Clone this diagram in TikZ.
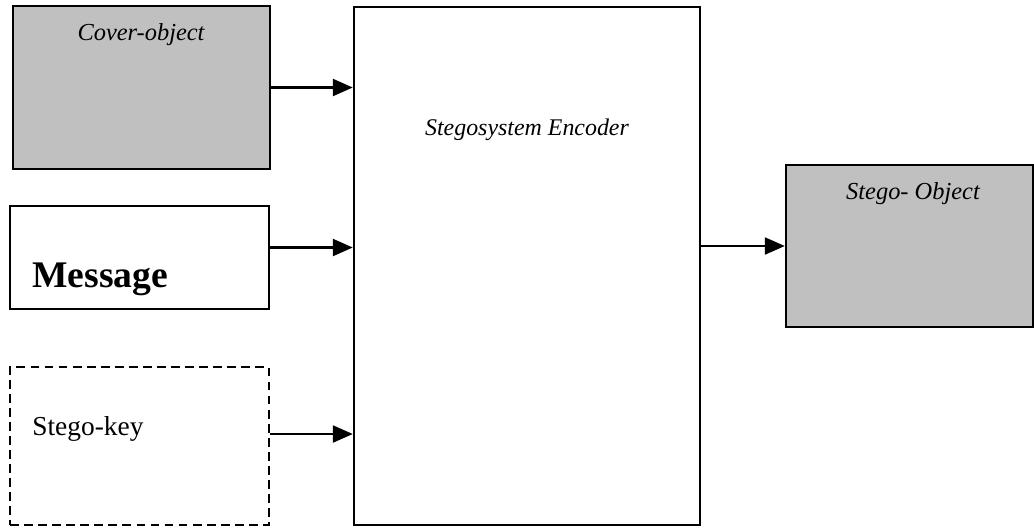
\documentclass[tikz,border=0pt]{standalone}
\usepackage{fontspec}
\setmainfont{Liberation Serif}
\usetikzlibrary{arrows.meta}
\definecolor{boxgray}{RGB}{192,192,192}

\begin{document}
\begin{tikzpicture}[x=0.02cm,y=-0.02cm,
        box/.style={draw, line width=1.4pt, inner sep=0pt},
        graybox/.style={box, fill=boxgray},
        arr/.style={line width=1.3pt, -{Triangle[length=0.4cm,width=0.34cm]}},
        lbl/.style={anchor=base, inner sep=0pt}]
            \useasboundingbox (0,0) rectangle (1034,529);
            % input boxes
            \node[graybox, minimum width=5.14cm, minimum height=3.26cm] (cover) at (141.5,87.5) {};
            \node[box, minimum width=5.18cm, minimum height=2.06cm] (msg) at (139.5,257.5) {};
            \node[box, dashed, dash pattern=on 5pt off 3pt, minimum width=5.18cm, minimum height=3.16cm] (key) at (139.5,446) {};
            % encoder and output
            \node[box, minimum width=6.92cm, minimum height=10.36cm] (enc) at (527,266) {};
            \node[graybox, minimum width=4.94cm, minimum height=3.24cm] (stego) at (909.5,246) {};
            % labels
            \node[lbl] (coverlbl) at (141,40) {\fontsize{13.9}{16}\selectfont\itshape Cover-object};
            \node[lbl, anchor=base west] (msglbl) at (32,287) {\fontsize{21.4}{24}\selectfont\bfseries Message};
            \node[lbl, anchor=base west] (keylbl) at (32,435) {\fontsize{15.6}{18}\selectfont Stego-key};
            \node[lbl] (enclbl) at (527,135) {\fontsize{13.6}{16}\selectfont\itshape Stegosystem Encoder};
            \node[lbl] (stegolbl) at (913,199) {\fontsize{13.9}{16}\selectfont\itshape Stego- Object};
            % arrows
            \draw[arr] (cover.east) -- (cover.east -| enc.west);
            \draw[arr] ([yshift=0.2cm]msg.east) -- ([yshift=0.2cm]msg.east -| enc.west);
            \draw[arr] ([yshift=0.24cm]key.east) -- ([yshift=0.24cm]key.east -| enc.west);
            \draw[arr] (stego.west -| enc.east) -- (stego.west);
        \end{tikzpicture}
\end{document}
